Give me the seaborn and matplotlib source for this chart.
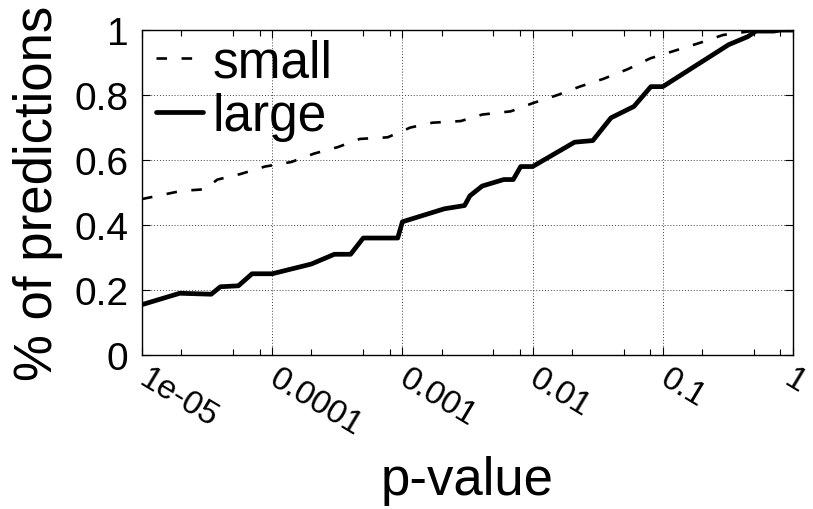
import numpy as np
import pandas as pd
import matplotlib
matplotlib.use("Agg")
import matplotlib.pyplot as plt
import matplotlib.transforms as mtransforms
from matplotlib.ticker import LogLocator, FixedLocator, FixedFormatter, NullFormatter
import seaborn as sns

# Cumulative fraction of predictions at or below each p-value
large_p = [1e-5, 1.95e-5, 3.4e-5, 4e-5, 5.5e-5, 7e-5, 1e-4, 2e-4, 3e-4, 4e-4, 5e-4,
           9.2e-4, 1e-3, 2.1e-3, 3e-3, 3.3e-3, 4.1e-3, 6e-3, 7.1e-3, 8.1e-3, 1e-2,
           2.1e-2, 2.9e-2, 4e-2, 6e-2, 8.1e-2, 0.1, 0.32, 0.45, 0.52, 0.71, 0.8, 1.0]
large_frac = [0.155, 0.19, 0.187, 0.21, 0.213, 0.25, 0.25, 0.28, 0.31, 0.31, 0.36,
              0.36, 0.41, 0.45, 0.46, 0.49, 0.52, 0.54, 0.54, 0.58, 0.58,
              0.655, 0.66, 0.73, 0.765, 0.826, 0.826, 0.955, 0.98, 0.997, 0.997, 1.0, 1.0]

small_p = [1e-5, 2e-5, 3e-5, 3.8e-5, 5.7e-5, 8.8e-5, 1.4e-4, 2.1e-4, 3.2e-4, 4.7e-4,
           7.7e-4, 1.15e-3, 1.7e-3, 2.8e-3, 4.1e-3, 6.8e-3, 1e-2, 1.55e-2, 2.3e-2,
           3.5e-2, 5.4e-2, 8e-2, 0.12, 0.19, 0.29, 0.48, 1.0]
small_frac = [0.48, 0.505, 0.51, 0.54, 0.557, 0.58, 0.594, 0.62, 0.64, 0.665,
              0.67, 0.70, 0.715, 0.72, 0.74, 0.75, 0.775, 0.80, 0.826,
              0.85, 0.88, 0.913, 0.935, 0.96, 0.985, 0.997, 1.0]

x_ticks = [1e-5, 1e-4, 1e-3, 1e-2, 1e-1, 1]
x_tick_labels = ["1e-05", "0.0001", "0.001", "0.01", "0.1", "1"]
y_ticks = [0, 0.2, 0.4, 0.6, 0.8, 1]
y_tick_labels = ["0", "0.2", "0.4", "0.6", "0.8", "1"]

sns.set_style("white")
plt.rcParams["font.family"] = ["Liberation Sans", "DejaVu Sans"]
plt.rcParams["text.color"] = "black"
plt.rcParams["axes.labelcolor"] = "black"
plt.rcParams["xtick.color"] = "black"
plt.rcParams["ytick.color"] = "black"

fig = plt.figure(figsize=(8.13, 5.10), dpi=100)
ax = fig.add_axes([0.1747, 0.302, 0.8007, 0.637])

sns.lineplot(x=small_p, y=small_frac, ax=ax, color="black", linewidth=1.9,
             label="small", estimator=None, sort=False)
sns.lineplot(x=large_p, y=large_frac, ax=ax, color="black", linewidth=3.4,
             label="large", estimator=None, sort=False)
ax.lines[0].set_dashes((4, 5.5))

ax.set_xscale("log")
ax.set_xlim(1e-5, 1)
ax.set_ylim(0, 1)

ax.xaxis.set_major_locator(FixedLocator(x_ticks))
ax.xaxis.set_major_formatter(FixedFormatter(x_tick_labels))
ax.xaxis.set_minor_locator(LogLocator(base=10, subs=(2, 5, 8)))
ax.xaxis.set_minor_formatter(NullFormatter())
ax.yaxis.set_major_locator(FixedLocator(y_ticks))
ax.yaxis.set_major_formatter(FixedFormatter(y_tick_labels))

ax.grid(True, which="major", color="#444444", linestyle=(0, (1, 2)), linewidth=0.7)
ax.tick_params(which="both", direction="in", top=True, right=True,
               bottom=True, left=True, color="black", width=0.8)
ax.tick_params(which="major", length=6)
ax.tick_params(which="minor", length=4)
ax.tick_params(axis="y", labelsize=28, pad=10)
ax.tick_params(axis="x", labelsize=24, pad=15)
xlabels = ax.get_xticklabels()
for lbl in xlabels:
    lbl.set_rotation(-31)
    lbl.set_rotation_mode("anchor")
    lbl.set_ha("left")
    lbl.set_va("center")
# nudge the rightmost label so it stays inside the figure
xlabels[-1].set_transform(xlabels[-1].get_transform() +
                          mtransforms.ScaledTranslation(-6 / 100, 0, fig.dpi_scale_trans))

for s in ax.spines.values():
    s.set_color("black")
    s.set_linewidth(1.0)

ax.set_xlabel("p-value", fontsize=38, labelpad=10)
ax.set_ylabel("% of predictions", fontsize=38, labelpad=8)

leg = ax.legend(loc="upper left", frameon=False, fontsize=37, handlelength=0.9,
                handletextpad=0.2, labelspacing=0.1, borderaxespad=0.0,
                borderpad=0.0, bbox_to_anchor=(0.022, 0.975))

fig.savefig("out.png", dpi=100, facecolor="white")
